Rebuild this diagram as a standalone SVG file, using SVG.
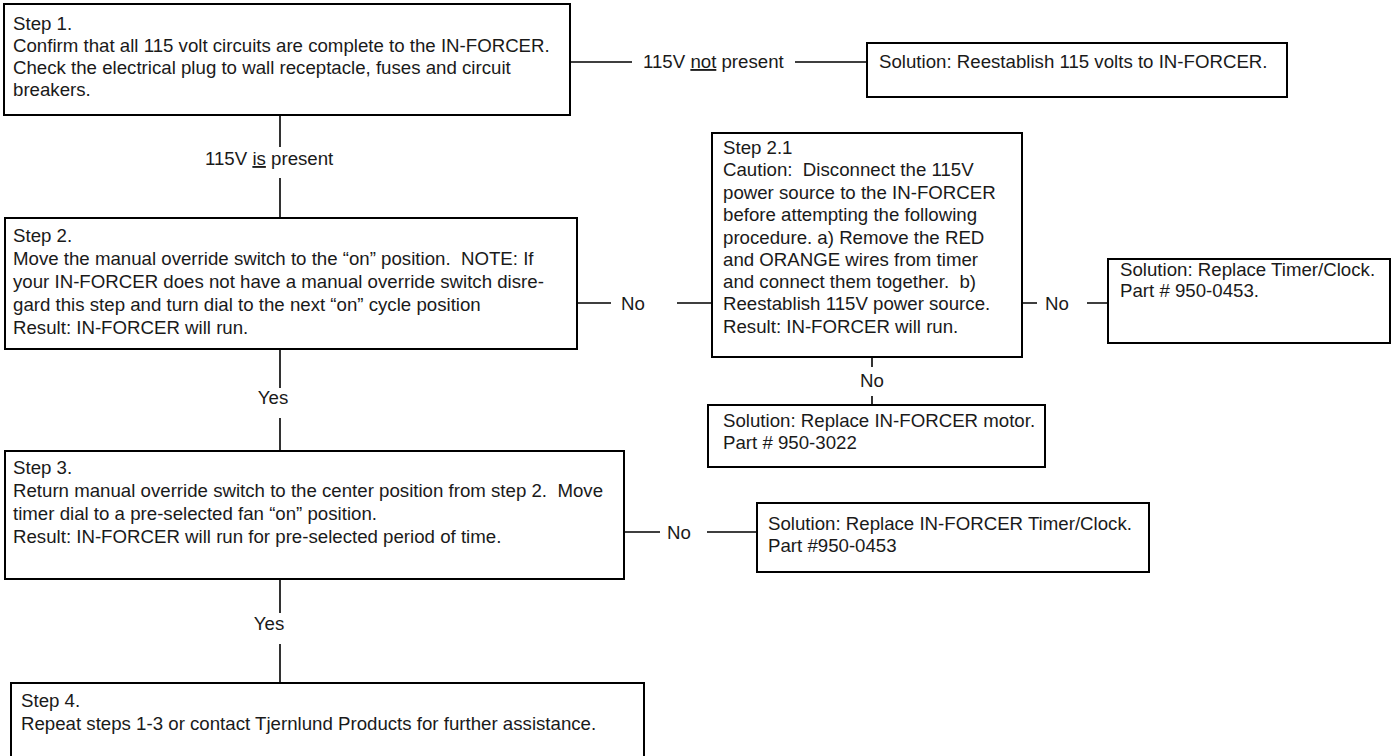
<svg xmlns="http://www.w3.org/2000/svg" width="1393" height="756" viewBox="0 0 1393 756">
<style>
text{font-family:"Liberation Sans",Arial,sans-serif;font-size:18.67px;fill:#1a1a1a;white-space:pre}
.box{fill:#fff;stroke:#000;stroke-width:2}
.c{stroke:#000;stroke-width:1.6;fill:none}
.m{text-anchor:middle}
</style>
<rect width="1393" height="756" fill="#fff"/>
<g id="connectors">
<path class="c" d="M570 62H632M795 62H867"/>
<text x="643" y="68">115V <tspan text-decoration="underline">not</tspan> present</text>
<path class="c" d="M280 115V147M280 178V218"/>
<text x="205" y="165">115V <tspan text-decoration="underline">is</tspan> present</text>
<path class="c" d="M577 303H611M677 303H712"/>
<text x="633" y="310" class="m">No</text>
<path class="c" d="M1022 303H1037M1087 303H1108"/>
<text x="1057" y="310" class="m">No</text>
<path class="c" d="M872 357V367M872 396V405"/>
<text x="872" y="387" class="m">No</text>
<path class="c" d="M280 349V388M280 418V451"/>
<text x="273" y="404" class="m">Yes</text>
<path class="c" d="M624 532H660M707 532H757"/>
<text x="679" y="539" class="m">No</text>
<path class="c" d="M280 579V613M280 644V683"/>
<text x="269" y="630" class="m">Yes</text>
</g>
<g id="step1">
<rect class="box" x="4" y="4" width="566" height="111"/>
<text x="13" y="30">Step 1.</text>
<text x="13" y="52">Confirm that all 115 volt circuits are complete to the IN-FORCER.</text>
<text x="13" y="74">Check the electrical plug to wall receptacle, fuses and circuit</text>
<text x="13" y="96">breakers.</text>
</g>
<g id="sol-reestablish">
<rect class="box" x="867" y="43" width="420" height="54"/>
<text x="879" y="68">Solution: Reestablish 115 volts to IN-FORCER.</text>
</g>
<g id="step2">
<rect class="box" x="5" y="218" width="572" height="131"/>
<text x="13" y="242">Step 2.</text>
<text x="13" y="265">Move the manual override switch to the “on” position.  NOTE: If</text>
<text x="13" y="288">your IN-FORCER does not have a manual override switch disre-</text>
<text x="13" y="311">gard this step and turn dial to the next “on” cycle position</text>
<text x="13" y="334">Result: IN-FORCER will run.</text>
</g>
<g id="step21">
<rect class="box" x="712" y="133" width="310" height="224"/>
<text x="723" y="154">Step 2.1</text>
<text x="723" y="176">Caution:  Disconnect the 115V</text>
<text x="723" y="199">power source to the IN-FORCER</text>
<text x="723" y="221">before attempting the following</text>
<text x="723" y="244">procedure. a) Remove the RED</text>
<text x="723" y="266">and ORANGE wires from timer</text>
<text x="723" y="288">and connect them together.  b)</text>
<text x="723" y="310">Reestablish 115V power source.</text>
<text x="723" y="333">Result: IN-FORCER will run.</text>
</g>
<g id="sol-timer">
<rect class="box" x="1108" y="259" width="282" height="84"/>
<text x="1120" y="276">Solution: Replace Timer/Clock.</text>
<text x="1120" y="297">Part # 950-0453.</text>
</g>
<g id="sol-motor">
<rect class="box" x="708" y="405" width="337" height="62"/>
<text x="723" y="427">Solution: Replace IN-FORCER motor.</text>
<text x="723" y="449">Part # 950-3022</text>
</g>
<g id="step3">
<rect class="box" x="5" y="451" width="619" height="128"/>
<text x="13" y="474">Step 3.</text>
<text x="13" y="497">Return manual override switch to the center position from step 2.  Move</text>
<text x="13" y="520">timer dial to a pre-selected fan “on” position.</text>
<text x="13" y="543">Result: IN-FORCER will run for pre-selected period of time.</text>
</g>
<g id="sol-timer2">
<rect class="box" x="757" y="503" width="392" height="69"/>
<text x="768" y="530">Solution: Replace IN-FORCER Timer/Clock.</text>
<text x="768" y="552">Part #950-0453</text>
</g>
<g id="step4">
<rect class="box" x="11" y="683" width="633" height="90"/>
<text x="21" y="707">Step 4.</text>
<text x="21" y="730">Repeat steps 1-3 or contact Tjernlund Products for further assistance.</text>
</g>
</svg>
